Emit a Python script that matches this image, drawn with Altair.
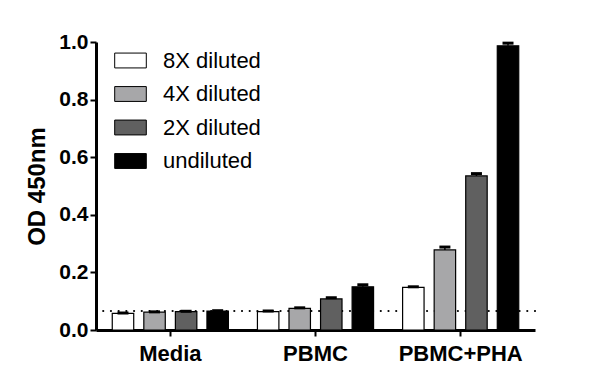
import altair as alt
import pandas as pd

groups = ["Media", "PBMC", "PBMC+PHA"]
series = ["8X diluted", "4X diluted", "2X diluted", "undiluted"]
colors = ["#ffffff", "#a7a7a9", "#606060", "#000000"]

media_vals = [0.058, 0.062, 0.064, 0.066]
pbmc_vals = [0.064, 0.075, 0.108, 0.150]
pha_vals = [0.148, 0.278, 0.535, 0.987]

media_err = [0.001, 0.001, 0.001, 0.001]
pbmc_err = [0.002, 0.002, 0.004, 0.007]
pha_err = [0.002, 0.010, 0.008, 0.009]

baseline = 0.066
y_ticks = [0.0, 0.2, 0.4, 0.6, 0.8, 1.0]

rows = []
for g, vals, errs in zip(groups, [media_vals, pbmc_vals, pha_vals], [media_err, pbmc_err, pha_err]):
    for s, v, e in zip(series, vals, errs):
        rows.append({"group": g, "series": s, "value": v, "upper": v + e})
df = pd.DataFrame(rows)

x_enc = alt.X("group:N", sort=groups,
              scale=alt.Scale(paddingInner=0.2, paddingOuter=0.112),
              axis=alt.Axis(title=None, labelAngle=0, labelFontSize=22, labelPadding=7,
                            tickSize=6, domainWidth=3))
xo_enc = alt.XOffset("series:N", sort=series,
                     scale=alt.Scale(paddingInner=0.32, paddingOuter=0))
y_scale = alt.Scale(domain=[0, 1], nice=False, zero=True)

dotted = alt.Chart(pd.DataFrame({"y": [baseline]})).mark_rule(
    color="black", strokeWidth=2.2, strokeCap="round", strokeDash=[0.01, 7.7]
).encode(y=alt.Y("y:Q", scale=y_scale))

base = alt.Chart(df)

bars = base.mark_bar(stroke="black", strokeWidth=1.2).encode(
    x=x_enc,
    xOffset=xo_enc,
    y=alt.Y("value:Q", scale=y_scale,
            axis=alt.Axis(values=y_ticks, format=".1f", title="OD 450nm",
                          titleFontSize=24, titleFontWeight="bold", titlePadding=9,
                          labelFontSize=21, labelPadding=2, tickSize=6, domainWidth=3)),
    fill=alt.Fill("series:N", sort=series,
                  scale=alt.Scale(domain=series, range=colors),
                  legend=alt.Legend(title=None, orient="none", legendX=18, legendY=2,
                                    symbolType="M-1,-0.47L1,-0.47L1,0.47L-1,0.47Z",
                                    symbolSize=1000, symbolStrokeColor="black",
                                    symbolStrokeWidth=1, symbolOpacity=1,
                                    labelFontSize=22, labelOffset=16, rowPadding=5.5,
                                    labelColor="black", labelFont="Liberation Sans")),
)

err = base.mark_rule(color="black", strokeWidth=1.5).encode(
    x=x_enc, xOffset=xo_enc, y=alt.Y("value:Q", scale=y_scale), y2="upper:Q"
)
cap = base.mark_tick(orient="horizontal", size=11, thickness=3, color="black", opacity=1).encode(
    x=x_enc, xOffset=xo_enc, y=alt.Y("upper:Q", scale=y_scale)
)

chart = alt.layer(dotted, bars, err, cap).properties(
    width=439, height=288,
    autosize=alt.AutoSizeParams(type="none"),
    padding={"left": 88, "top": 34, "right": 57, "bottom": 52},
).configure(
    font="Liberation Sans"
).configure_view(
    stroke=None
).configure_axis(
    domainColor="black", tickColor="black", tickWidth=2, labelColor="black",
    labelFontWeight="bold", titleColor="black", grid=False, labelFont="Liberation Sans",
    titleFont="Liberation Sans"
)

chart.save("out.html", embed_options={"renderer": "svg", "actions": False})
